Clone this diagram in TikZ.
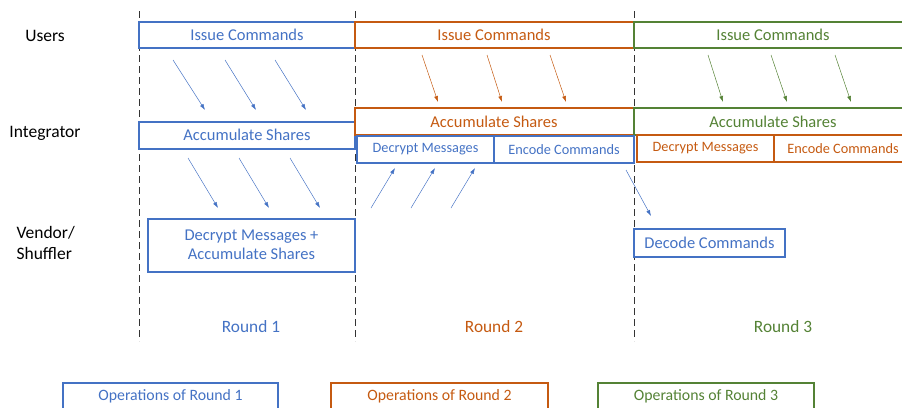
\documentclass[tikz,border=0pt]{standalone}
\usepackage{fontspec}
\setmainfont{Carlito}
\usetikzlibrary{arrows.meta}
\definecolor{rblue}{HTML}{4472C4}
\definecolor{rorange}{HTML}{C55A11}
\definecolor{rgreen}{HTML}{548235}
\begin{document}
\begin{tikzpicture}[x=1pt,y=-1pt,
  opbox/.style={draw, line width=1.3pt, inner sep=0pt},
  bigtxt/.style={font=\fontsize{16.5}{19}\selectfont},
  smalltxt/.style={font=\fontsize{14.3}{17}\selectfont},
  legendtxt/.style={font=\fontsize{15.8}{18}\selectfont},
  rowlabel/.style={font=\fontsize{17.5}{21}\selectfont, align=left},
  roundlabel/.style={font=\fontsize{17.3}{20}\selectfont},
  divider/.style={draw=black!80, line width=1pt, dash pattern=on 7pt off 4pt},
  flow/.style={line width=0.5pt, -{Latex[length=6pt,width=4pt]}},
]
\useasboundingbox (0,0) rectangle (902,407);
\clip (0,0) rectangle (902,407);

% round dividers
\foreach \x/\n in {139/d1,355/d2,634/d3}{
  \coordinate (\n top) at (\x,11);
  \coordinate (\n bot) at (\x,341);
  \draw[divider] (\n top) -- (\n bot);
}

% row labels
\node[rowlabel] (users) at (45,36) {Users};
\node[rowlabel] (integ) at (45,133) {Integrator};
\node[rowlabel, anchor=west] (vendor) at (13,243) {Vendor/\\Shuffler};

% Users row
\draw[opbox, draw=rblue] (139,22) rectangle (355,48);
\node[bigtxt, text=rblue] (u1) at (247,35) {Issue Commands};
\draw[opbox, draw=rorange] (355,22) rectangle (634,48);
\node[bigtxt, text=rorange] (u2) at (494,35) {Issue Commands};
\draw[opbox, draw=rgreen] (634,22) rectangle (910,48);
\node[bigtxt, text=rgreen] (u3) at (773,35) {Issue Commands};

% Integrator row
\draw[opbox, draw=rblue] (139,122) rectangle (355,149);
\node[bigtxt, text=rblue] (i1) at (247,135) {Accumulate Shares};
\draw[opbox, draw=rorange] (355,108) rectangle (634,135);
\node[bigtxt, text=rorange] (i2) at (494,121.5) {Accumulate Shares};
\draw[opbox, draw=rgreen] (634,108) rectangle (910,135);
\node[bigtxt, text=rgreen] (i3) at (773,121.5) {Accumulate Shares};

\draw[opbox, draw=rblue] (357,136) rectangle (494,163);
\node[smalltxt, text=rblue] (dm2) at (425.5,149.5) {Decrypt Messages};
\draw[opbox, draw=rblue] (494,136) rectangle (634,163);
\node[smalltxt, text=rblue] (ec2) at (564,149.5) {Encode Commands};
\draw[opbox, draw=rorange] (637,135) rectangle (774,162);
\node[smalltxt, text=rorange] (dm3) at (705.5,148.5) {Decrypt Messages};
\draw[opbox, draw=rorange] (774,135) rectangle (910,162);
\node[smalltxt, text=rorange] (ec3) at (843,148.5) {Encode Commands};

% Vendor / Shuffler row
\draw[opbox, draw=rblue] (148,219) rectangle (355,272);
\node[bigtxt, text=rblue, align=center] (v1) at (251.5,245) {Decrypt Messages +\\Accumulate Shares};
\draw[opbox, draw=rblue] (634,229) rectangle (785,257);
\node[bigtxt, text=rblue] (v3) at (709.5,243) {Decode Commands};

% flows
\foreach \a/\b/\c/\d/\col in {
  173/60/205/110/rblue, 225/60/256/110/rblue, 275/60/306/110/rblue,
  188/158/218/208/rblue, 239/158/269/208/rblue, 290/158/320/208/rblue,
  422/55/438/102/rorange, 487/55/502/102/rorange, 550/55/566/102/rorange,
  708/55/723/102/rgreen, 771/55/787/102/rgreen, 835/55/851/102/rgreen,
  371/208/395/168/rblue, 411/208/435/168/rblue, 451/208/475/168/rblue,
  626/170/651/216/rblue}{
  \coordinate (fs) at (\a,\b);
  \coordinate (fe) at (\c,\d);
  \draw[flow, draw=\col] (fs) -- (fe);
}

% round labels
\node[roundlabel, text=rblue] (r1) at (251,327) {Round 1};
\node[roundlabel, text=rorange] (r2) at (494,327) {Round 2};
\node[roundlabel, text=rgreen] (r3) at (783,327) {Round 3};

% legend
\draw[opbox, draw=rblue] (63,383) rectangle (278,412);
\node[legendtxt, text=rblue] (l1) at (170.5,396) {Operations of Round 1};
\draw[opbox, draw=rorange] (331,383) rectangle (548,412);
\node[legendtxt, text=rorange] (l2) at (439.5,396) {Operations of Round 2};
\draw[opbox, draw=rgreen] (598,383) rectangle (814,412);
\node[legendtxt, text=rgreen] (l3) at (706,396) {Operations of Round 3};
\end{tikzpicture}
\end{document}
